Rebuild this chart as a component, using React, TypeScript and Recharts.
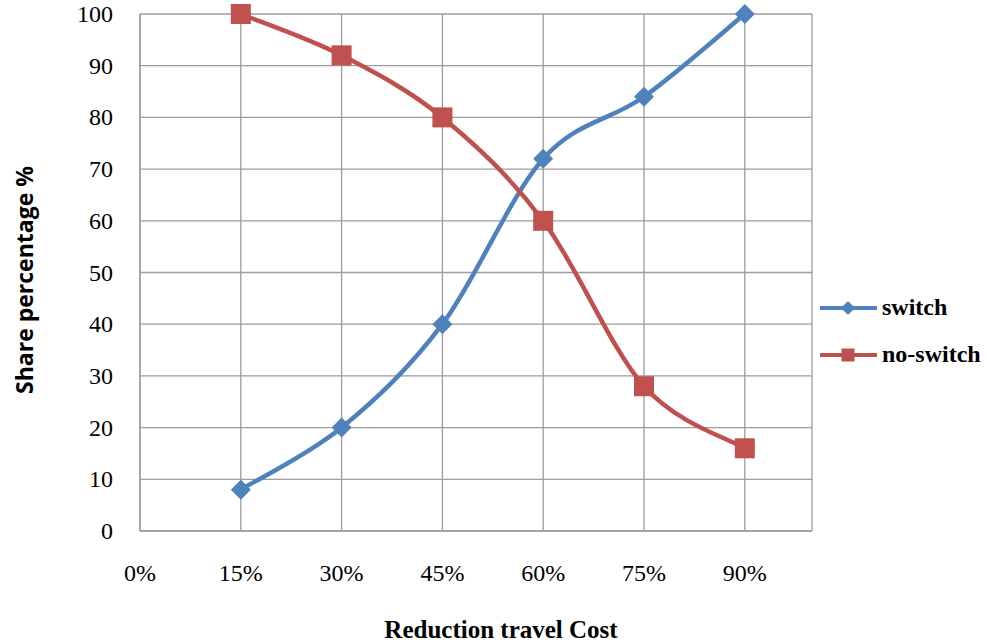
import React from 'react';
import { LineChart, Line, XAxis, YAxis, CartesianGrid, Legend } from 'recharts';

const categories = [15, 30, 45, 60, 75, 90];
const switchShare = [8, 20, 40, 72, 84, 100];
const noSwitchShare = [100, 92, 80, 60, 28, 16];
const xTicks = [0, 15, 30, 45, 60, 75, 90, 100];
const yTicks = [0, 10, 20, 30, 40, 50, 60, 70, 80, 90, 100];
const seriesNames = ['switch', 'no-switch'];
const xTitle = 'Reduction travel Cost';
const yTitle = 'Share percentage %';

const BLUE = '#4F81BD';
const RED = '#C0504D';
const GRID = '#9c9c9c';
const SERIF = '"Liberation Serif", "Times New Roman", serif';

const data = categories.map((c, i) => ({ x: c, sw: switchShare[i], ns: noSwitchShare[i] }));

// Excel-like smoothed line (Catmull-Rom as cubic Bezier)
const excelSmooth = (context: any) => {
  let pts: number[][] = [];
  return {
    areaStart() {},
    areaEnd() {},
    lineStart() {
      pts = [];
    },
    point(x: number, y: number) {
      pts.push([+x, +y]);
    },
    lineEnd() {
      const n = pts.length;
      if (!n) return;
      context.moveTo(pts[0][0], pts[0][1]);
      for (let i = 0; i < n - 1; i++) {
        const p0 = pts[i - 1] || pts[i];
        const p1 = pts[i];
        const p2 = pts[i + 1];
        const p3 = pts[i + 2] || p2;
        context.bezierCurveTo(
          p1[0] + (p2[0] - p0[0]) / 6,
          p1[1] + (p2[1] - p0[1]) / 6,
          p2[0] - (p3[0] - p1[0]) / 6,
          p2[1] - (p3[1] - p1[1]) / 6,
          p2[0],
          p2[1]
        );
      }
    },
  };
};

const diamondPath = (cx: number, cy: number, r: number) =>
  `M${cx},${cy - r}L${cx + r},${cy}L${cx},${cy + r}L${cx - r},${cy}Z`;

const DiamondDot = (props: any) => {
  const { cx, cy, index } = props;
  if (cx == null || cy == null) return <g key={`d-${index}`} />;
  return <path key={`d-${index}`} d={diamondPath(cx, cy, 10)} fill={BLUE} />;
};

const SquareDot = (props: any) => {
  const { cx, cy, index } = props;
  if (cx == null || cy == null) return <g key={`s-${index}`} />;
  return <rect key={`s-${index}`} x={cx - 10} y={cy - 10} width={20} height={20} fill={RED} />;
};

const XTick = (props: any) => {
  const { x, y, payload } = props;
  if (payload.value === 100) return <g />;
  return (
    <text x={x} y={y + 50} textAnchor="middle" fontFamily={SERIF} fontSize={24} fill="#000">
      {`${payload.value}%`}
    </text>
  );
};

const YTick = (props: any) => {
  const { x, y, payload } = props;
  return (
    <text x={x} y={y + 8} textAnchor="end" fontFamily={SERIF} fontSize={24} fill="#000">
      {payload.value}
    </text>
  );
};

const renderLegend = () => {
  const rows = [
    { name: seriesNames[0], color: BLUE, shape: 'diamond' },
    { name: seriesNames[1], color: RED, shape: 'square' },
  ];
  return (
    <svg width={172} height={90} style={{ display: 'block' }}>
      {rows.map((r, i) => {
        const cy = 18 + i * 47;
        return (
          <g key={r.name}>
            <line x1={5} x2={62} y1={cy} y2={cy} stroke={r.color} strokeWidth={4} />
            {r.shape === 'diamond' ? (
              <path d={diamondPath(33, cy, 7)} fill={r.color} />
            ) : (
              <rect x={26.5} y={cy - 6.5} width={13} height={13} fill={r.color} />
            )}
            <text
              x={67}
              y={cy + 7}
              fontFamily={SERIF}
              fontWeight="bold"
              fontSize={24}
              fill="#000"
            >
              {r.name}
            </text>
          </g>
        );
      })}
    </svg>
  );
};

export default function App() {
  return (
    <div style={{ position: 'absolute', left: 0, top: 0, background: '#fff', fontFamily: SERIF }}>
      <LineChart
        width={987}
        height={643}
        data={data}
        margin={{ top: 14, right: 175, bottom: 0, left: 0 }}
      >
        <CartesianGrid stroke={GRID} strokeWidth={1.3} horizontalValues={yTicks} verticalValues={xTicks} />
        <XAxis
          dataKey="x"
          type="number"
          domain={[0, 100]}
          ticks={xTicks}
          interval={0}
          height={112}
          tickLine={false}
          tickSize={0}
          tickMargin={0}
          axisLine={{ stroke: GRID, strokeWidth: 1.3 }}
          tick={<XTick />}
          label={{
            content: () => (
              <text
                x={501}
                y={638}
                textAnchor="middle"
                fontFamily={SERIF}
                fontWeight="bold"
                fontSize={25}
                fill="#000"
              >
                {xTitle}
              </text>
            ),
          }}
        />
        <YAxis
          type="number"
          domain={[0, 100]}
          ticks={yTicks}
          interval={0}
          width={140}
          tickLine={false}
          tickSize={0}
          tickMargin={27}
          axisLine={{ stroke: GRID, strokeWidth: 1.3 }}
          tick={<YTick />}
          label={{
            content: () => (
              <text
                x={24}
                y={280}
                transform="rotate(-90, 24, 280)"
                textAnchor="middle"
                dominantBaseline="central"
                fontFamily='"Open Sans", "Liberation Sans", sans-serif'
                fontWeight="bold"
                fontSize={23}
                fill="#000"
              >
                {yTitle}
              </text>
            ),
          }}
        />
        <Legend
          layout="vertical"
          align="center"
          verticalAlign="middle"
          content={renderLegend}
          wrapperStyle={{ left: 815, top: 290, width: 172, height: 90 }}
        />
        <Line
          dataKey="sw"
          name={seriesNames[0]}
          type={excelSmooth as any}
          stroke={BLUE}
          strokeWidth={4.5}
          dot={DiamondDot}
          activeDot={false}
          isAnimationActive={false}
        />
        <Line
          dataKey="ns"
          name={seriesNames[1]}
          type={excelSmooth as any}
          stroke={RED}
          strokeWidth={4.5}
          dot={SquareDot}
          activeDot={false}
          isAnimationActive={false}
        />
      </LineChart>
    </div>
  );
}
